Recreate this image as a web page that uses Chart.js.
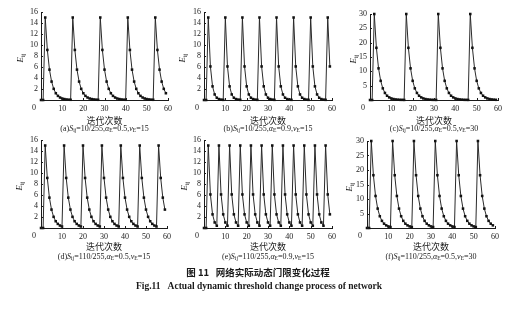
<!DOCTYPE html>
<html>
<head>
<meta charset="utf-8">
<script src="https://cdn.jsdelivr.net/npm/chart.js@4.4.1/dist/chart.umd.min.js"></script>
<style>
  body { margin: 0; background: #fff; width: 527px; height: 328px; position: relative; overflow: hidden;
         font-family: "Liberation Serif", serif; color: #1a1a1a; }
  canvas { position: absolute; }
  .lbl { position: absolute; white-space: nowrap; transform: translate(-50%, -50%); line-height: 1; }
  .xt { font-family: "Noto Sans CJK SC", sans-serif; font-size: 9px; }
  .cap { font-size: 8px; }
  .yt { font-size: 9px; transform: translate(-50%, -50%) rotate(-90deg); }
  sub { font-size: 70%; vertical-align: baseline; position: relative; top: 0.35em; line-height: 0; }
  .fig1 { font-family: "Noto Sans CJK SC", sans-serif; font-size: 9.5px; font-weight: bold; }
  .fig2 { font-size: 9.5px; font-weight: bold; }
</style>
</head>
<body>
<script>
// iteration index (x axis)
const iterations = [0,1,2,3,4,5,6,7,8,9,10,11,12,13,14,15,16,17,18,19,20,21,22,23,24,25,26,27,28,29,
  30,31,32,33,34,35,36,37,38,39,40,41,42,43,44,45,46,47,48,49,50,51,52,53,54,55,56,57,58,59];

// (a) S=10/255, aE=0.5, vE=15
const eA = [0, 0, 15, 9.10, 5.52, 3.35, 2.03, 1.23, 0.75, 0.45, 0.27, 0.17, 0.10, 0.06, 0.04,
  15, 9.10, 5.52, 3.35, 2.03, 1.23, 0.75, 0.45, 0.27, 0.17, 0.10, 0.06, 0.04,
  15, 9.10, 5.52, 3.35, 2.03, 1.23, 0.75, 0.45, 0.27, 0.17, 0.10, 0.06, 0.04,
  15, 9.10, 5.52, 3.35, 2.03, 1.23, 0.75, 0.45, 0.27, 0.17, 0.10, 0.06, 0.04,
  15, 9.10, 5.52, 3.35, 2.03, 1.23];
// (b) S=10/255, aE=0.9, vE=15
const eB = [0, 0,
  15, 6.10, 2.48, 1.01, 0.41, 0.17, 0.07, 0.03,
  15, 6.10, 2.48, 1.01, 0.41, 0.17, 0.07, 0.03,
  15, 6.10, 2.48, 1.01, 0.41, 0.17, 0.07, 0.03,
  15, 6.10, 2.48, 1.01, 0.41, 0.17, 0.07, 0.03,
  15, 6.10, 2.48, 1.01, 0.41, 0.17, 0.07, 0.03,
  15, 6.10, 2.48, 1.01, 0.41, 0.17, 0.07, 0.03,
  15, 6.10, 2.48, 1.01, 0.41, 0.17, 0.07, 0.03,
  15, 6.10];
// (c) S=10/255, aE=0.5, vE=30
const eC = [0, 0,
  30, 18.20, 11.04, 6.69, 4.06, 2.46, 1.49, 0.91, 0.55, 0.33, 0.20, 0.12, 0.07, 0.05, 0.03,
  30, 18.20, 11.04, 6.69, 4.06, 2.46, 1.49, 0.91, 0.55, 0.33, 0.20, 0.12, 0.07, 0.05, 0.03,
  30, 18.20, 11.04, 6.69, 4.06, 2.46, 1.49, 0.91, 0.55, 0.33, 0.20, 0.12, 0.07, 0.05, 0.03,
  30, 18.20, 11.04, 6.69, 4.06, 2.46, 1.49, 0.91, 0.55, 0.33, 0.20, 0.12, 0.07];
// (d) S=110/255, aE=0.5, vE=15
const eD = [0, 0,
  15, 9.10, 5.52, 3.35, 2.03, 1.23, 0.75, 0.45, 0.27,
  15, 9.10, 5.52, 3.35, 2.03, 1.23, 0.75, 0.45, 0.27,
  15, 9.10, 5.52, 3.35, 2.03, 1.23, 0.75, 0.45, 0.27,
  15, 9.10, 5.52, 3.35, 2.03, 1.23, 0.75, 0.45, 0.27,
  15, 9.10, 5.52, 3.35, 2.03, 1.23, 0.75, 0.45, 0.27,
  15, 9.10, 5.52, 3.35, 2.03, 1.23, 0.75, 0.45, 0.27,
  15, 9.10, 5.52, 3.35];
// (e) S=110/255, aE=0.9, vE=15
const eE = [0, 0,
  15, 6.10, 2.48, 1.01, 0.41, 15, 6.10, 2.48, 1.01, 0.41, 15, 6.10, 2.48, 1.01, 0.41,
  15, 6.10, 2.48, 1.01, 0.41, 15, 6.10, 2.48, 1.01, 0.41, 15, 6.10, 2.48, 1.01, 0.41,
  15, 6.10, 2.48, 1.01, 0.41, 15, 6.10, 2.48, 1.01, 0.41, 15, 6.10, 2.48, 1.01, 0.41,
  15, 6.10, 2.48, 1.01, 0.41, 15, 6.10, 2.48, 1.01, 0.41,
  15, 6.10, 2.48];
// (f) S=110/255, aE=0.5, vE=30
const eF = [0, 0,
  30, 18.20, 11.04, 6.69, 4.06, 2.46, 1.49, 0.91, 0.55, 0.33,
  30, 18.20, 11.04, 6.69, 4.06, 2.46, 1.49, 0.91, 0.55, 0.33,
  30, 18.20, 11.04, 6.69, 4.06, 2.46, 1.49, 0.91, 0.55, 0.33,
  30, 18.20, 11.04, 6.69, 4.06, 2.46, 1.49, 0.91, 0.55, 0.33,
  30, 18.20, 11.04, 6.69, 4.06, 2.46, 1.49, 0.91, 0.55, 0.33,
  30, 18.20, 11.04, 6.69, 4.06, 2.46, 1.49, 0.91];

const xTicks = [0, 10, 20, 30, 40, 50, 60];
const yTicks15 = [0, 2, 4, 6, 8, 10, 12, 14, 16];
const yTicks30 = [0, 5, 10, 15, 20, 25, 30];

const captions = [
  '(a)<i>S</i><sub>ij</sub>=10/255,<i>α</i><sub>E</sub>=0.5,<i>v</i><sub>E</sub>=15',
  '(b)<i>S</i><sub>ij</sub>=10/255,<i>α</i><sub>E</sub>=0.9,<i>v</i><sub>E</sub>=15',
  '(c)<i>S</i><sub>ij</sub>=10/255,<i>α</i><sub>E</sub>=0.5,<i>v</i><sub>E</sub>=30',
  '(d)<i>S</i><sub>ij</sub>=110/255,<i>α</i><sub>E</sub>=0.5,<i>v</i><sub>E</sub>=15',
  '(e)<i>S</i><sub>ij</sub>=110/255,<i>α</i><sub>E</sub>=0.9,<i>v</i><sub>E</sub>=15',
  '(f)<i>S</i><sub>ij</sub>=110/255,<i>α</i><sub>E</sub>=0.5,<i>v</i><sub>E</sub>=30'
];

// plot boxes in page pixels: left, right, top, bottom, plus y-title x position
const panels = [
  { data: eA, yMax: 16, yTicks: yTicks15, l: 41,  r: 168, t: 12,  b: 100, ey: 19.5 },
  { data: eB, yMax: 16, yTicks: yTicks15, l: 204, r: 332, t: 12,  b: 100, ey: 182 },
  { data: eC, yMax: 30, yTicks: yTicks30, l: 370, r: 498, t: 14,  b: 100, ey: 353 },
  { data: eD, yMax: 16, yTicks: yTicks15, l: 41,  r: 167, t: 140, b: 228, ey: 18.5 },
  { data: eE, yMax: 16, yTicks: yTicks15, l: 204, r: 332, t: 140, b: 228, ey: 184 },
  { data: eF, yMax: 30, yTicks: yTicks30, l: 367, r: 495, t: 141, b: 228, ey: 349 }
];

const PAD_L = 5, Y_W = 30, PAD_T = 8, PAD_R = 10, X_H = 20;

// inward tick marks and the shared "0" at the origin corner
const innerTicks = {
  id: 'innerTicks',
  afterDraw(chart) {
    const { ctx, chartArea: a, scales: { x, y } } = chart;
    ctx.save();
    ctx.strokeStyle = '#1a1a1a';
    ctx.lineWidth = 1;
    ctx.beginPath();
    x.ticks.forEach((t) => {
      const px = Math.round(x.getPixelForValue(t.value)) + 0.5;
      ctx.moveTo(px, a.bottom);
      ctx.lineTo(px, a.bottom - 2);
    });
    y.ticks.forEach((t) => {
      const py = Math.round(y.getPixelForValue(t.value)) + 0.5;
      ctx.moveTo(a.left, py);
      ctx.lineTo(a.left + 2, py);
    });
    ctx.stroke();
    ctx.fillStyle = '#1a1a1a';
    ctx.font = '8px "Liberation Serif"';
    ctx.textAlign = 'center';
    ctx.textBaseline = 'middle';
    ctx.fillText('0', a.left - 7, a.bottom + 8);
    ctx.restore();
  }
};

function addLabel(cls, html, x, y) {
  const d = document.createElement('div');
  d.className = 'lbl ' + cls;
  d.innerHTML = html;
  d.style.left = x + 'px';
  d.style.top = y + 'px';
  document.body.appendChild(d);
}

panels.forEach((p, i) => {
  const canvas = document.createElement('canvas');
  const w = p.r - p.l + Y_W + PAD_L + PAD_R;
  const h = p.b - p.t + PAD_T + X_H;
  canvas.width = w;
  canvas.height = h;
  canvas.style.left = (p.l - Y_W - PAD_L) + 'px';
  canvas.style.top = (p.t - PAD_T) + 'px';
  document.body.appendChild(canvas);

  const tickFont = { family: '"Liberation Serif", serif', size: 8 };

  new Chart(canvas, {
    type: 'line',
    data: {
      datasets: [{
        data: iterations.map((n, k) => ({ x: n, y: p.data[k] })),
        borderColor: '#2a2a2a',
        borderWidth: 1,
        pointStyle: 'rect',
        pointRadius: 1.8,
        pointBackgroundColor: '#111',
        pointBorderWidth: 0,
        tension: 0,
        clip: false
      }]
    },
    options: {
      responsive: false,
      animation: false,
      layout: { padding: { left: PAD_L, top: PAD_T, right: PAD_R, bottom: 0 } },
      plugins: { legend: { display: false }, tooltip: { enabled: false } },
      scales: {
        x: {
          type: 'linear',
          min: 0,
          max: 60,
          afterBuildTicks: (s) => { s.ticks = xTicks.map((v) => ({ value: v })); },
          afterFit: (s) => { s.height = X_H; },
          grid: { display: false, drawTicks: false },
          border: { display: true, color: '#1a1a1a', width: 1 },
          ticks: { padding: 4, maxRotation: 0, autoSkip: false, color: '#1a1a1a', font: tickFont,
                   callback: (v) => (v === 0 ? '' : v) }
        },
        y: {
          min: 0,
          max: p.yMax,
          afterBuildTicks: (s) => { s.ticks = p.yTicks.map((v) => ({ value: v })); },
          afterFit: (s) => { s.width = Y_W; },
          grid: { display: false, drawTicks: false },
          border: { display: true, color: '#1a1a1a', width: 1 },
          ticks: { padding: 3, autoSkip: false, color: '#1a1a1a', font: tickFont,
                   callback: (v) => (v === 0 ? '' : v) }
        }
      }
    },
    plugins: [innerTicks]
  });

  const cx = (p.l + p.r) / 2;
  const top = i < 3;
  addLabel('xt', '迭代次数', cx, top ? 119.5 : 246);
  addLabel('cap', captions[i], cx, top ? 128.5 : 256.5);
  addLabel('yt', '<i>E</i><sub>ij</sub>', p.ey, (p.t + p.b) / 2 + 2);
});

addLabel('fig1', '图 11&nbsp;&nbsp;&nbsp;网络实际动态门限变化过程', 258, 273);
addLabel('fig2', 'Fig.11&nbsp;&nbsp;&nbsp;Actual dynamic threshold change process of network', 259, 287);
</script>
</body>
</html>
